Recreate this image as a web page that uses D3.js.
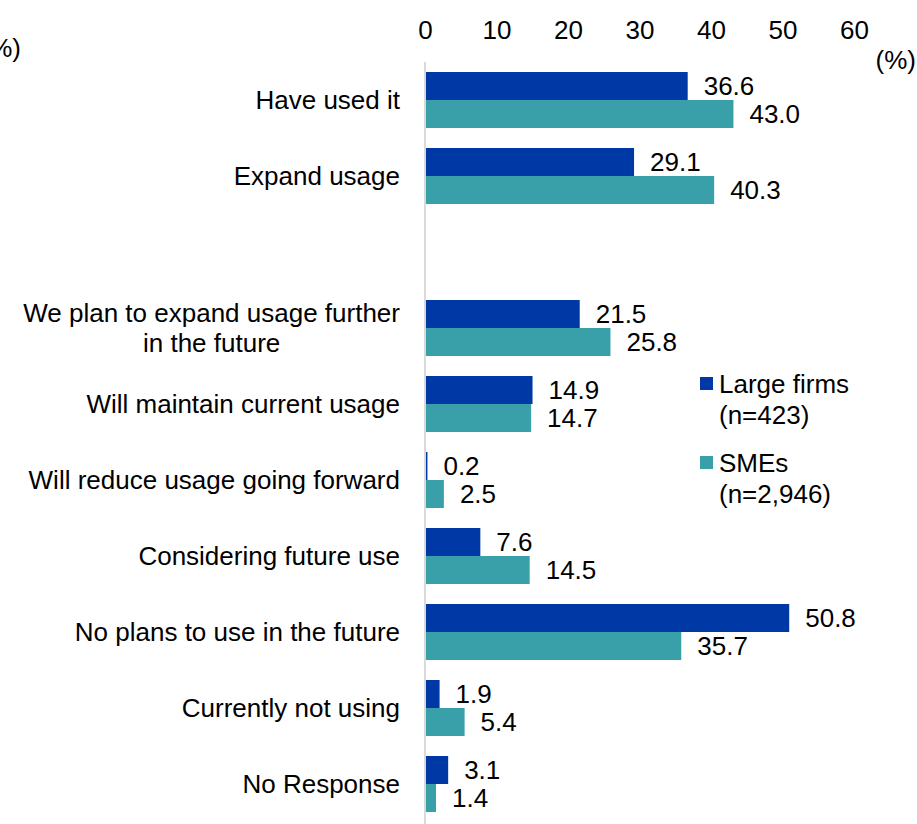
<!DOCTYPE html>
<html>
<head>
<meta charset="utf-8">
<script src="https://cdn.jsdelivr.net/npm/d3@7"></script>
<style>
  html, body { margin: 0; padding: 0; background: #fff; }
  svg text { font-family: "Liberation Sans", Arial, sans-serif; fill: #000; }
</style>
</head>
<body>
<svg id="chart" width="917" height="824"></svg>
<script>
// Categories (an empty string leaves a blank spacer row)
const categories = [
  "Have used it",
  "Expand usage",
  "",
  "We plan to expand usage further\nin the future",
  "Will maintain current usage",
  "Will reduce usage going forward",
  "Considering future use",
  "No plans to use in the future",
  "Currently not using",
  "No Response"
];
const seriesNames = ["Large firms\n(n=423)", "SMEs\n(n=2,946)"];
const largeFirms = [36.6, 29.1, null, 21.5, 14.9, 0.2, 7.6, 50.8, 1.9, 3.1];
const smes       = [43.0, 40.3, null, 25.8, 14.7, 2.5, 14.5, 35.7, 5.4, 1.4];
const tickValues = [0, 10, 20, 30, 40, 50, 60];
const colors = ["#0039A6", "#399FA8"];

const svg = d3.select("#chart");
const fontSize = 26;

const x = d3.scaleLinear().domain([0, 60]).range([425, 854]);
const y = d3.scaleBand().domain(d3.range(categories.length)).range([62, 822]).paddingInner(0).paddingOuter(0);
const inner = d3.scaleBand().domain([0, 1]).range([0, y.bandwidth()]).paddingOuter(0.357).paddingInner(0);

// Top value axis (labels only)
const axis = d3.axisTop(x).tickValues(tickValues).tickSize(0).tickPadding(0).tickFormat(d3.format("d"));
const axG = svg.append("g").attr("transform", "translate(0,39)").call(axis);
axG.select(".domain").remove();
axG.selectAll("text").attr("font-size", fontSize).attr("font-family", "Liberation Sans, Arial, sans-serif").attr("fill", "#000");

// Unit labels
svg.append("text").attr("x", 916).attr("y", 69).attr("text-anchor", "end").attr("font-size", fontSize).text("(%)");
svg.append("text").attr("x", 21).attr("y", 57).attr("text-anchor", "end").attr("font-size", fontSize).text("(%)");

// Category axis line
svg.append("line").attr("x1", x(0)).attr("x2", x(0)).attr("y1", 62).attr("y2", 824)
  .attr("stroke", "#d9d9d9").attr("stroke-width", 2);

const series = [largeFirms, smes];
series.forEach((vals, si) => {
  const g = svg.append("g");
  vals.forEach((v, i) => {
    if (v == null) return;
    const y0 = y(i) + inner(si);
    g.append("rect")
      .attr("x", x(0) + 1).attr("y", y0)
      .attr("width", Math.max(x(v) - x(0), 1.2)).attr("height", inner.bandwidth())
      .attr("fill", colors[si]);
    g.append("text")
      .attr("x", x(v) + 17).attr("y", y0 + inner.bandwidth() / 2)
      .attr("dy", "0.36em").attr("font-size", fontSize)
      .text(d3.format(".1f")(v));
  });
});

// Category labels: right-aligned, wrapped lines centred under the first
categories.forEach((c, i) => {
  if (!c) return;
  const lines = c.split("\n");
  const cy = y(i) + y.bandwidth() / 2;
  const lh = 30;
  const t = svg.append("text").attr("font-size", fontSize).attr("text-anchor", "end");
  const first = t.append("tspan").attr("x", 400).attr("y", cy - (lines.length - 1) * lh / 2).attr("dy", "0.36em").text(lines[0]);
  if (lines.length > 1) {
    const w = first.node().getComputedTextLength();
    lines.slice(1).forEach((ln, k) => {
      t.append("tspan").attr("x", 400 - w / 2).attr("text-anchor", "middle")
        .attr("y", cy - (lines.length - 1) * lh / 2 + (k + 1) * lh).attr("dy", "0.36em").text(ln);
    });
  }
});

// Legend
const legY = [384, 463];
seriesNames.forEach((n, si) => {
  svg.append("rect").attr("x", 700).attr("y", legY[si] - 7).attr("width", 13).attr("height", 13).attr("fill", colors[si]);
  const lines = n.split("\n");
  lines.forEach((ln, k) => {
    svg.append("text").attr("x", 719).attr("y", legY[si] + k * 31).attr("dy", "0.36em")
      .attr("font-size", fontSize).text(ln);
  });
});
</script>
</body>
</html>
